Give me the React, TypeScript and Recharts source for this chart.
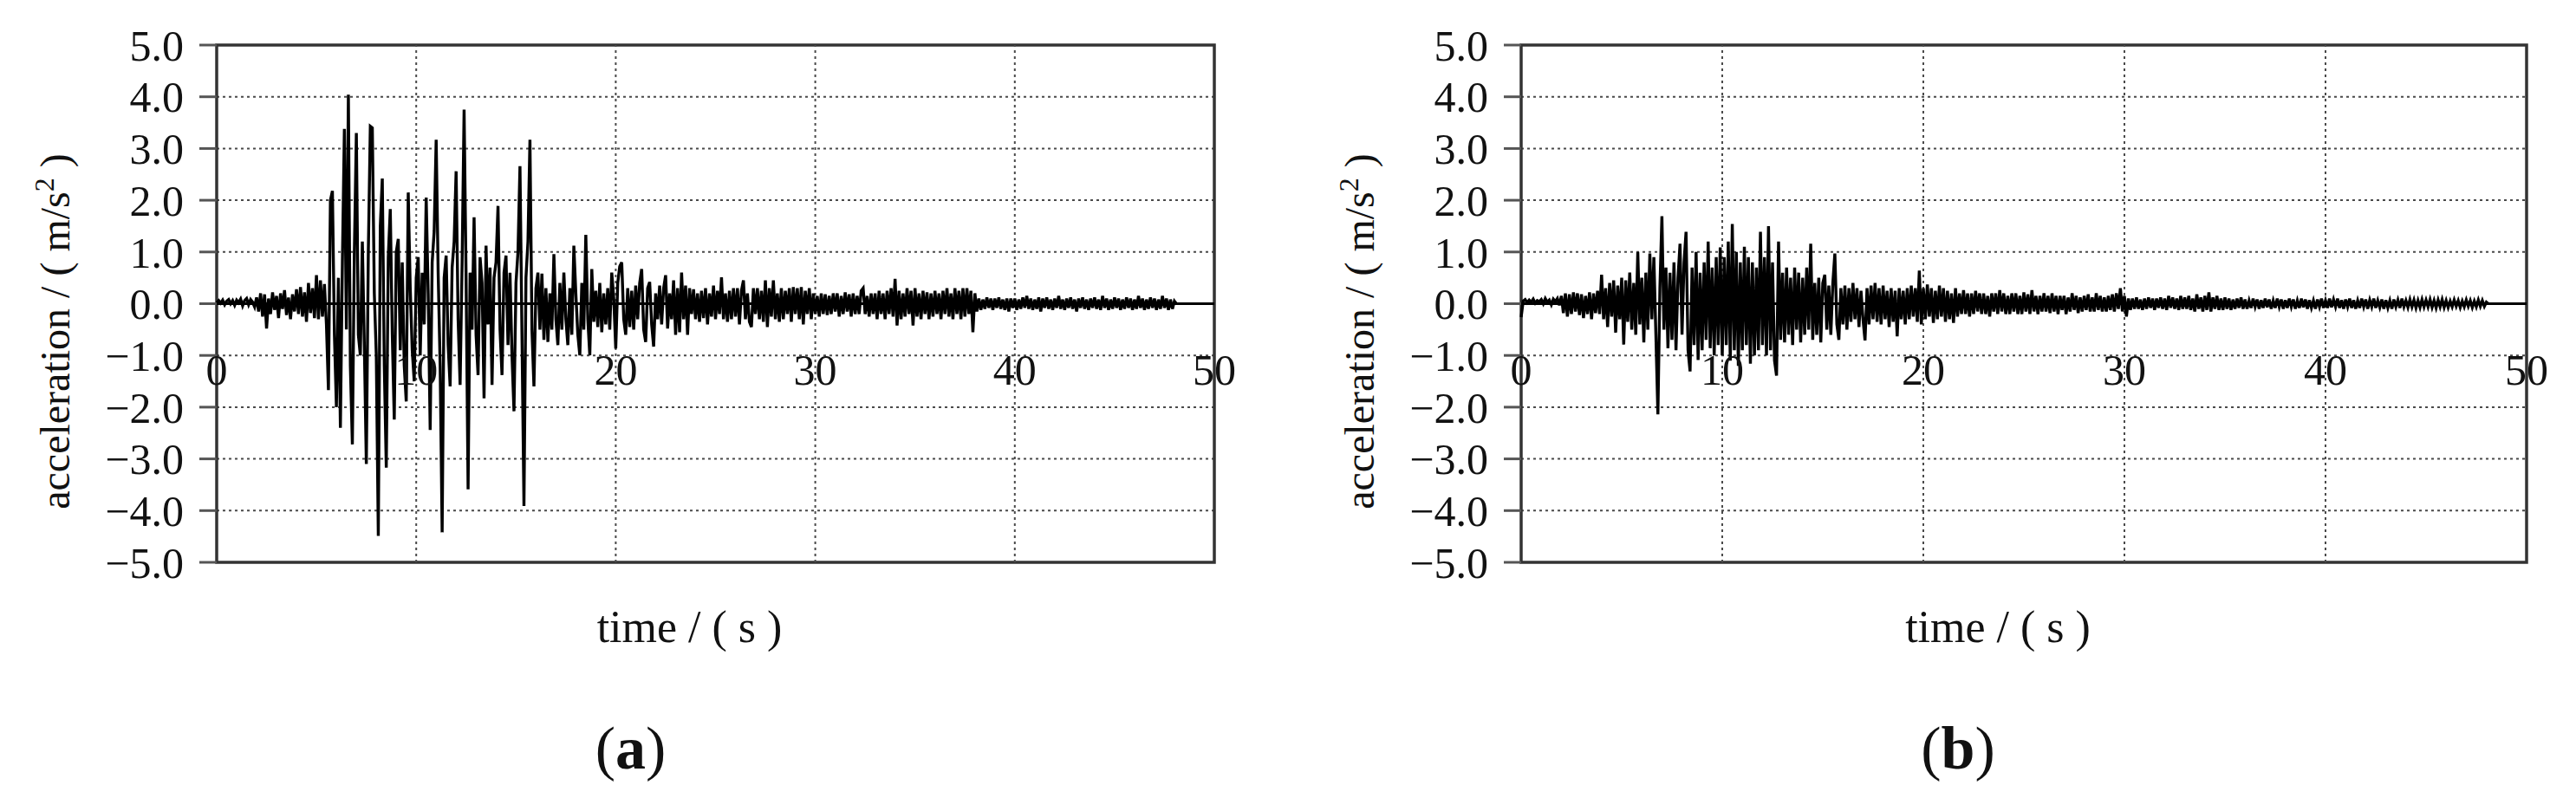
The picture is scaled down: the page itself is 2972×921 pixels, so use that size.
import {
  LineChart,
  Line,
  XAxis,
  YAxis,
  CartesianGrid,
  ReferenceArea,
  ReferenceLine,
  ReferenceDot,
} from "recharts";

const FONT = '"Liberation Serif", "Times New Roman", serif';

// sampling step of the digitised records (s)
const DT = 0.1;

const X_TICKS = [0, 10, 20, 30, 40, 50];
const X_GRID = [10, 20, 30, 40];
const Y_TICKS = [-5, -4, -3, -2, -1, 0, 1, 2, 3, 4, 5];

// (a) acceleration record, m/s2, one row = 1 s
const accA_00_10 = [
  0.02, 0.06, 0.01, 0.07, -0.02, 0.05, 0.08, 0.0, 0.06, -0.03,
  0.07, 0.02, 0.09, -0.04, 0.06, 0.1, -0.02, 0.08, 0.03, -0.06,
  0.12, -0.15, 0.2, -0.25, 0.18, -0.48, 0.1, -0.2, 0.22, -0.12,
  0.15, -0.28, 0.2, -0.1, 0.26, -0.22, 0.12, -0.3, 0.18, -0.15,
  0.28, -0.2, 0.32, -0.25, 0.22, -0.35, 0.4, -0.18, 0.3, -0.28,
  0.55, -0.3, 0.45, -0.25, 0.38, -0.4, -1.67, 2.0, 2.18, -0.6,
  -2.0, 0.5, -2.4, 0.8, 3.38, -0.5, 4.04, -1.2, -2.72, 1.0,
  3.3, -0.6, -1.0, 1.2, -0.8, -3.1, 1.0, 3.43, 3.4, 0.2,
  -1.0, -4.49, 1.5, 2.42, -1.2, -3.17, 0.9, 1.83, -0.6, -2.24,
  1.0, 1.25, -0.9, 0.8, -1.2, -1.89, 2.15, 0.3, -0.9, -1.5,
];
const accA_10_20 = [
  0.5, 0.9, -1.0, 0.6, -0.4, 2.05, 0.2, -2.44, 0.8, 1.4,
  3.17, 0.6, -1.2, -4.42, 0.5, 0.93, -0.8, -1.6, 0.7, 1.2,
  2.56, -0.3, -1.57, 0.8, 3.75, 0.5, -3.59, 0.6, -0.5, 1.67,
  -0.6, -1.38, 0.9, 0.4, -1.83, 1.12, -0.4, 0.7, -1.57, 0.5,
  0.8, 1.89, -0.5, -1.38, 0.6, 0.93, -0.8, 0.6, -1.0, -2.08,
  0.4, 1.0, 2.66, -0.6, -3.91, 0.5, 1.2, 3.17, -0.5, -1.6,
  0.3, 0.6, -0.5, 0.58, -0.7, 0.3, -0.74, 0.2, -0.5, 0.96,
  -0.3, -0.8, 0.4, -0.5, 0.6, -0.3, -0.8, 0.3, -0.6, 1.12,
  0.2, -0.6, -1.0, 0.4, -0.5, 1.33, -0.3, -1.0, 0.67, -0.35,
  0.25, -0.45, 0.4, -0.55, 0.2, -0.4, 0.3, -0.5, 0.6, 0.1,
];
const accA_20_30 = [
  -0.87, 0.4, 0.72, 0.8, -0.3, -0.6, 0.3, -0.45, 0.25, -0.5,
  0.35, -0.3, 0.4, 0.67, -0.5, -0.74, 0.3, 0.42, -0.4, -0.83,
  0.2, -0.3, 0.35, -0.4, 0.3, 0.55, -0.48, 0.2, -0.3, 0.45,
  -0.6, 0.3, -0.55, 0.6, -0.3, 0.35, -0.6, 0.3, -0.2, 0.28,
  -0.3, 0.2, -0.35, 0.25, -0.28, 0.3, -0.4, 0.2, -0.25, 0.35,
  -0.3, 0.25, -0.2, 0.51, -0.3, 0.2, -0.35, 0.25, -0.3, 0.3,
  -0.25, 0.3, -0.4, 0.25, 0.45, -0.3, 0.2, -0.35, -0.45, 0.3,
  -0.2, 0.3, -0.3, 0.25, -0.35, 0.45, -0.45, 0.3, -0.25, 0.45,
  -0.3, 0.2, -0.35, 0.3, -0.3, 0.25, -0.2, 0.3, -0.35, 0.32,
  -0.2, 0.3, -0.3, 0.32, -0.4, 0.25, -0.2, 0.3, -0.3, 0.2,
];
const accA_30_40 = [
  -0.2, 0.15, -0.25, 0.2, -0.2, 0.18, -0.22, 0.15, -0.2, 0.2,
  -0.15, 0.2, -0.25, 0.15, -0.2, 0.22, -0.15, 0.18, -0.25, 0.2,
  -0.2, 0.15, -0.2, 0.25, 0.3, -0.2, 0.15, -0.25, 0.2, -0.2,
  0.2, -0.3, 0.25, -0.2, 0.2, -0.3, 0.25, -0.2, 0.3, -0.25,
  0.48, -0.42, 0.25, -0.3, 0.2, -0.25, 0.3, -0.2, 0.25, -0.42,
  0.3, -0.25, 0.2, -0.3, 0.25, -0.2, 0.22, -0.3, 0.2, -0.25,
  0.25, -0.2, 0.2, -0.3, 0.25, -0.2, 0.3, -0.25, 0.2, -0.3,
  0.3, -0.2, 0.25, -0.3, 0.3, -0.25, 0.3, -0.2, 0.25, -0.55,
  0.2, -0.15, 0.1, -0.12, 0.08, -0.1, 0.12, -0.08, 0.1, -0.12,
  0.1, -0.08, 0.12, -0.1, 0.08, -0.12, 0.1, -0.15, 0.1, -0.08,
];
const accA_40_48 = [
  0.1, -0.12, 0.08, -0.1, 0.12, -0.08, 0.15, -0.1, 0.1, -0.12,
  0.08, -0.1, 0.12, -0.15, 0.1, -0.08, 0.12, -0.1, 0.08, -0.12,
  0.1, -0.08, 0.15, -0.1, 0.08, -0.12, 0.1, -0.08, 0.12, -0.1,
  0.08, -0.15, 0.1, -0.08, 0.12, -0.1, 0.08, -0.12, 0.1, -0.08,
  0.12, -0.1, 0.08, -0.12, 0.15, -0.08, 0.1, -0.12, 0.08, -0.1,
  0.12, -0.08, 0.1, -0.12, 0.08, -0.1, 0.12, -0.08, 0.1, -0.12,
  0.08, -0.1, 0.15, -0.08, 0.1, -0.12, 0.08, -0.1, 0.12, -0.08,
  0.1, -0.12, 0.08, -0.1, 0.15, -0.08, 0.1, -0.12, 0.08, -0.1,
  0.05, 0.0,
];

// (b) acceleration record, m/s2, one row = 1 s
const accB_00_10 = [
  -0.26, 0.05, 0.08, 0.02, 0.07, 0.03, 0.09, 0.01, 0.06, 0.04,
  0.08, 0.0, 0.1, 0.03, 0.07, -0.02, 0.09, 0.04, 0.1, -0.03,
  0.15, -0.18, 0.2, -0.25, 0.18, -0.2, 0.22, -0.15, 0.2, -0.22,
  0.18, -0.28, 0.15, -0.2, 0.22, -0.3, 0.2, -0.18, 0.25, -0.2,
  0.56, -0.3, 0.3, -0.45, 0.4, -0.25, 0.45, -0.56, 0.35, -0.3,
  0.5, -0.79, 0.45, -0.35, 0.6, -0.5, 0.4, -0.6, 1.0, -0.4,
  0.5, -0.75, 0.6, -0.5, 0.97, -0.3, 0.9, -0.6, -2.14, 0.3,
  1.69, -0.5, 0.7, -0.86, 0.6, -0.7, 0.8, -0.9, 0.5, 1.16,
  -0.6, 0.8, 1.39, -0.9, -1.31, 0.7, -0.8, 1.0, -1.09, 0.6,
  -0.9, 0.8, -0.7, 1.2, -0.86, 0.7, -1.0, 0.9, -0.8, 1.09,
];
const accB_10_20 = [
  -1.0, 0.9, -0.8, 1.2, -1.1, 1.54, -0.9, 1.0, -1.2, 0.8,
  -0.9, 1.1, -0.8, 0.9, -1.16, 0.8, -1.0, 0.7, -0.9, 1.39,
  -0.8, 0.9, -1.0, 1.5, -0.9, 0.8, -1.1, -1.39, 1.2, -0.7,
  0.6, -0.75, 0.7, -0.6, 0.5, -0.8, 0.7, -0.5, 0.6, -0.75,
  0.5, -0.6, 0.7, -0.5, 1.16, -0.7, 0.4, -0.6, 0.5, -0.75,
  0.4, 0.56, -0.5, 0.35, -0.6, 0.4, 0.97, -0.4, -0.7, 0.3,
  -0.4, 0.35, -0.5, 0.3, -0.35, 0.4, -0.3, 0.3, -0.45, 0.25,
  -0.3, -0.71, 0.3, -0.4, 0.35, -0.3, 0.4, -0.35, 0.3, -0.4,
  0.35, -0.3, 0.25, -0.45, 0.3, -0.35, 0.25, -0.63, 0.3, -0.3,
  0.25, -0.4, 0.3, -0.3, 0.35, -0.25, 0.3, -0.35, 0.64, -0.4,
];
const accB_20_30 = [
  0.3, -0.3, 0.37, -0.25, 0.3, -0.37, 0.25, -0.3, 0.35, -0.25,
  0.3, -0.35, 0.25, -0.3, 0.2, -0.37, 0.3, -0.25, 0.2, -0.2,
  0.26, -0.2, 0.2, -0.25, 0.2, -0.2, 0.25, -0.15, 0.2, -0.2,
  0.2, -0.2, 0.15, -0.25, 0.2, -0.15, 0.2, -0.2, 0.26, -0.15,
  0.2, -0.2, 0.15, -0.2, 0.2, -0.15, 0.2, -0.2, 0.15, -0.2,
  0.22, -0.15, 0.18, -0.2, 0.26, -0.15, 0.15, -0.2, 0.15, -0.15,
  0.2, -0.15, 0.15, -0.18, 0.2, -0.15, 0.15, -0.2, 0.15, -0.12,
  0.15, -0.2, 0.12, -0.15, 0.2, -0.12, 0.15, -0.18, 0.12, -0.15,
  0.15, -0.12, 0.18, -0.15, 0.12, -0.15, 0.2, -0.12, 0.15, -0.15,
  0.12, -0.15, 0.15, -0.12, 0.18, -0.15, 0.2, -0.1, 0.3, -0.15,
];
const accB_30_40 = [
  0.15, -0.25, 0.1, -0.12, 0.1, -0.1, 0.12, -0.1, 0.08, -0.12,
  0.1, -0.1, 0.12, -0.08, 0.1, -0.12, 0.1, -0.08, 0.12, -0.1,
  0.1, -0.12, 0.15, -0.08, 0.12, -0.1, 0.1, -0.12, 0.15, -0.1,
  0.12, -0.1, 0.15, -0.12, 0.1, -0.15, 0.18, -0.1, 0.12, -0.15,
  0.15, -0.12, 0.22, -0.15, 0.12, -0.1, 0.15, -0.12, 0.1, -0.12,
  0.12, -0.1, 0.1, -0.12, 0.08, -0.1, 0.1, -0.08, 0.12, -0.1,
  0.08, -0.1, 0.06, -0.08, 0.1, -0.06, 0.08, -0.1, 0.07, -0.08,
  0.1, -0.07, 0.08, -0.1, 0.06, -0.08, 0.1, -0.06, 0.08, -0.1,
  0.07, -0.08, 0.1, -0.06, 0.08, -0.1, 0.06, -0.08, 0.1, -0.07,
  0.08, -0.1, 0.07, -0.08, 0.06, -0.1, 0.08, -0.06, 0.1, -0.08,
];
const accB_40_48 = [
  0.06, -0.08, 0.1, -0.07, 0.08, -0.06, 0.1, -0.08, 0.07, -0.1,
  0.08, -0.06, 0.1, -0.08, 0.07, -0.1, 0.06, -0.08, 0.1, -0.06,
  0.08, -0.1, 0.07, -0.06, 0.1, -0.08, 0.06, -0.07, 0.08, -0.1,
  0.07, -0.08, 0.06, -0.1, 0.08, -0.06, 0.07, -0.08, 0.1, -0.06,
  0.06, -0.07, 0.08, -0.06, 0.07, -0.08, 0.06, -0.07, 0.08, -0.06,
  0.07, -0.06, 0.08, -0.07, 0.06, -0.08, 0.07, -0.06, 0.08, -0.07,
  0.06, -0.07, 0.05, -0.06, 0.07, -0.05, 0.06, -0.07, 0.05, -0.06,
  0.07, -0.05, 0.06, -0.07, 0.05, -0.06, 0.07, -0.05, 0.06, -0.05,
  0.03, 0.0,
];

const toSeries = (values: number[]) =>
  values.map((a, i) => ({ t: Math.round(i * DT * 10) / 10, a }));

const seriesA = toSeries([...accA_00_10, ...accA_10_20, ...accA_20_30, ...accA_30_40, ...accA_40_48]);
const seriesB = toSeries([...accB_00_10, ...accB_10_20, ...accB_20_30, ...accB_30_40, ...accB_40_48]);

const fmtY = (v: number) => (v < 0 ? "\u2212" : "") + Math.abs(v).toFixed(1);

function YTitle({ viewBox }: any) {
  if (!viewBox) return null;
  const bx = viewBox.x + viewBox.width - 170;
  const cy = viewBox.y + viewBox.height / 2 + 32;
  return (
    <text
      x={bx}
      y={cy}
      transform={`rotate(-90, ${bx}, ${cy})`}
      textAnchor="middle"
      fontFamily={FONT}
      fontSize={48}
      fill="#111"
    >
      acceleration / ( m/s
      <tspan dy={-18} fontSize={32}>2</tspan>
      <tspan dy={18}> )</tspan>
    </text>
  );
}

function XTitles({ viewBox, caption, titleShift, captionShift }: any) {
  if (!viewBox) return null;
  const cx = viewBox.x + viewBox.width / 2;
  return (
    <g fontFamily={FONT} fill="#111">
      <text x={cx + titleShift} y={viewBox.y + 92} textAnchor="middle" fontSize={52}>
        time / ( s )
      </text>
      <text x={cx + captionShift} y={viewBox.y + 238} textAnchor="middle" fontSize={70}>
        (<tspan fontWeight="bold">{caption}</tspan>)
      </text>
    </g>
  );
}

interface PanelProps {
  data: { t: number; a: number }[];
  width: number;
  axisWidth: number;
  right: number;
  caption: string;
  captionShift: number;
}

function Panel({ data, width, axisWidth, right, caption, captionShift }: PanelProps) {
  return (
    <LineChart width={width} height={921} data={data} margin={{ top: 52, right, bottom: 0, left: 0 }}>
      <CartesianGrid vertical={false} stroke="#4a4a4a" strokeWidth={2} strokeDasharray="3 4" />
      {X_GRID.map((t) => (
        <ReferenceLine key={`g${t}`} x={t} stroke="#4a4a4a" strokeWidth={2} strokeDasharray="3 4" />
      ))}
      <XAxis
        type="number"
        dataKey="t"
        domain={[0, 50]}
        ticks={X_TICKS}
        tick={false}
        tickLine={false}
        axisLine={false}
        height={272}
        label={<XTitles caption={caption} titleShift={-30} captionShift={captionShift} />}
      />
      <YAxis
        type="number"
        domain={[-5, 5]}
        ticks={Y_TICKS}
        interval={0}
        width={axisWidth}
        axisLine={false}
        tickSize={20}
        tickMargin={18}
        tickLine={{ stroke: "#555", strokeWidth: 3 }}
        tickFormatter={fmtY}
        tick={{ fill: "#111", fontSize: 50, fontFamily: FONT }}
        label={<YTitle />}
      />
      <ReferenceArea x1={0} x2={50} y1={-5} y2={5} fill="none" stroke="#333" strokeWidth={3.5} />
      <ReferenceLine y={0} stroke="#000" strokeWidth={3} />
      {X_TICKS.map((t) => (
        <ReferenceDot
          key={t}
          x={t}
          y={0}
          r={0}
          fill="none"
          stroke="none"
          label={{ value: String(t), position: "bottom", offset: 58, fill: "#111", fontSize: 50, fontFamily: FONT }}
        />
      ))}
      <Line
        type="linear"
        dataKey="a"
        stroke="#000"
        strokeWidth={3.4}
        dot={false}
        activeDot={false}
        isAnimationActive={false}
      />
    </LineChart>
  );
}

export default function App() {
  return (
    <div
      style={{
        position: "absolute",
        left: 0,
        top: 0,
        width: 2972,
        height: 921,
        background: "#fff",
        overflow: "hidden",
      }}
    >
      <div style={{ position: "absolute", left: 0, top: 0 }}>
        <Panel data={seriesA} width={1480} axisWidth={250} right={79} caption="a" captionShift={-98} />
      </div>
      <div style={{ position: "absolute", left: 1480, top: 0 }}>
        <Panel data={seriesB} width={1492} axisWidth={275} right={57} caption="b" captionShift={-76} />
      </div>
    </div>
  );
}
